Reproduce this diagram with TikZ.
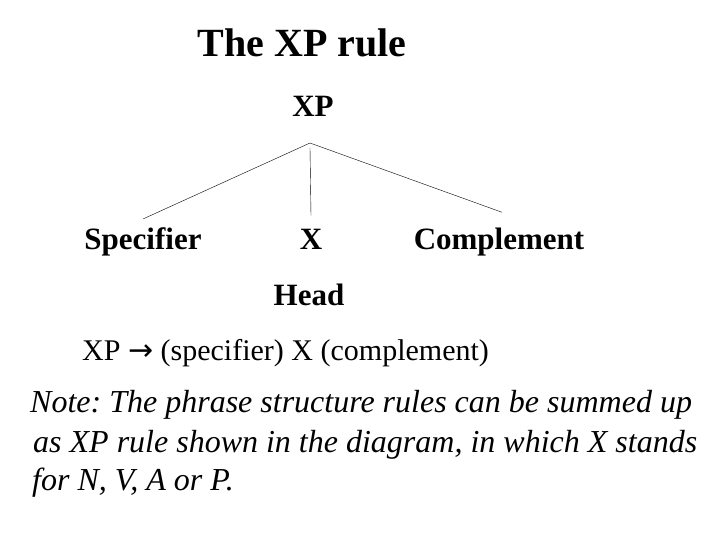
\documentclass[tikz,border=0pt]{standalone}
\usepackage{fontspec}
\setmainfont{Liberation Serif}
\newfontfamily\arrowfont{DejaVu Sans}
\usetikzlibrary{positioning}
\frenchspacing

\begin{document}
\begin{tikzpicture}[x=1bp, y=-1bp,
  every node/.style={inner sep=0pt},
  titletext/.style={font=\fontsize{40bp}{46bp}\selectfont\bfseries, anchor=base},
  word/.style={font=\fontsize{31bp}{36bp}\selectfont\bfseries, anchor=base},
  ruletext/.style={font=\fontsize{30bp}{36bp}\selectfont, anchor=base west},
  notetext/.style={font=\fontsize{32bp}{38bp}\selectfont\itshape, anchor=base west}]
  \useasboundingbox (0,0) rectangle (720,540);
  % title and tree
  \node[titletext] (title) at (302,57) {The XP rule};
  \node[word] (xp) at (313,117) {XP};
  \coordinate (top) at (310,143);
  \node[word] (spec) at (143,250) {Specifier};
  \node[word] (x) at (311,250) {X};
  \node[word] (comp) at (499,250) {Complement};
  \node[word] (head) at (309,305) {Head};
  \draw (top) -- ([yshift=9bp]spec.north);
  \draw ([yshift=-5bp]top) -- ([yshift=14bp]x.north);
  \draw (top) -- ([xshift=3bp,yshift=16bp]comp.north);
  % rule and note
  \node[ruletext] (rule) at (82,360) {XP {\arrowfont →} (specifier) X (complement)};
  \node[notetext] (note1) at (30,412) {Note: The phrase structure rules can be summed up};
  \node[notetext] (note2) at (33,452) {as XP rule shown in the diagram, in which X stands};
  \node[notetext] (note3) at (32,490) {for N, V, A or P.};
\end{tikzpicture}
\end{document}
